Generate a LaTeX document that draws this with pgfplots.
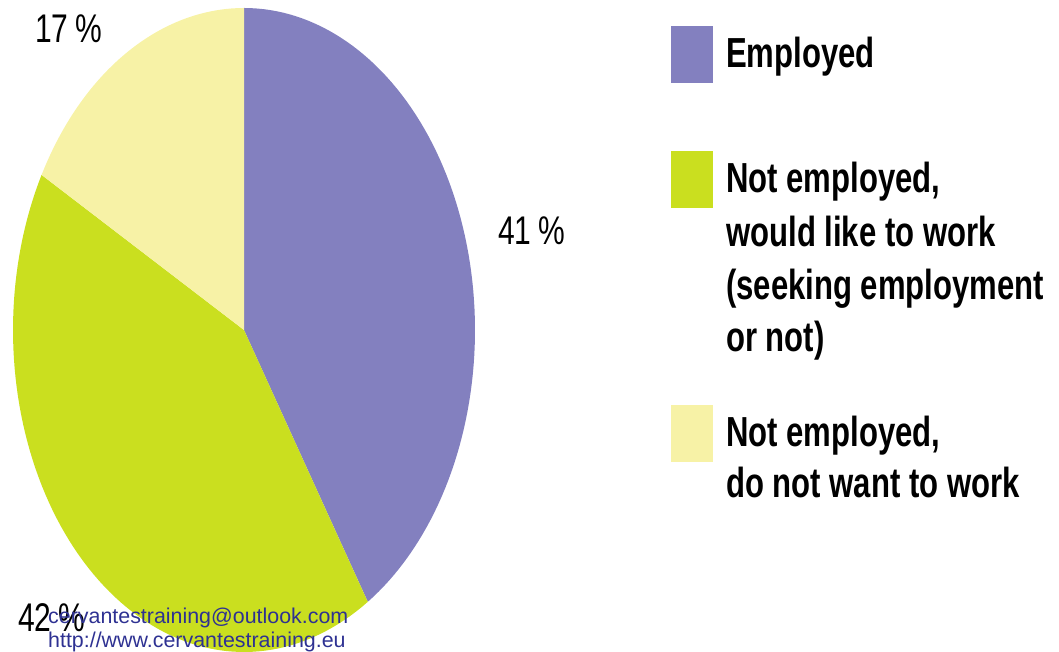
\documentclass[border=0pt]{standalone}
\usepackage{pgfplots}
\pgfplotsset{compat=1.18}
\usepackage{fontspec}
\setmainfont{Liberation Sans}
\newfontfamily\condreg[FakeStretch=0.75]{Liberation Sans}
\newfontfamily\condbold[FakeStretch=0.74, UprightFont=*-Bold]{Liberation Sans}
\definecolor{emp}{HTML}{8380BF}
\definecolor{nwork}{HTML}{CADF1F}
\definecolor{nowant}{HTML}{F7F2A6}
\definecolor{wm}{HTML}{2E3192}
% shares (percent)
\def\pA{41}\def\pB{42}\def\pC{17}
\pgfmathsetmacro\aA{3.6*\pA}
\pgfmathsetmacro\aB{3.6*(\pA+\pB)}
\pgfmathsetmacro\aC{3.6*(\pA+\pB+\pC)}
\begin{document}
\begin{tikzpicture}
\begin{axis}[
  at={(0,0)}, anchor=south west,
  scale only axis, width=1059pt, height=652pt,
  xmin=0, xmax=1059, ymin=0, ymax=652,
  hide axis, clip=false,
]
\addplot[fill=emp, draw=none, domain=0:\aA, samples=90, variable=\t]
  ({244+231*sin(t)}, {322+322*cos(t)}) -- (axis cs:244,322) -- cycle;
\addplot[fill=nwork, draw=none, domain=\aA:\aB, samples=90, variable=\t]
  ({244+231*sin(t)}, {322+322*cos(t)}) -- (axis cs:244,322) -- cycle;
\addplot[fill=nowant, draw=none, domain=\aB:\aC, samples=40, variable=\t]
  ({244+231*sin(t)}, {322+322*cos(t)}) -- (axis cs:244,322) -- cycle;

% percentage labels
\node[anchor=base west, font=\condreg\fontsize{40}{40}\selectfont, inner sep=0pt] at (axis cs:35,609) {17\,\%};
\node[anchor=base west, font=\condreg\fontsize{40}{40}\selectfont, inner sep=0pt] at (axis cs:498,407) {41\,\%};
\node[anchor=base west, font=\condreg\fontsize{40}{40}\selectfont, inner sep=0pt] at (axis cs:18,20) {42\,\%};

% legend
\fill[emp] (axis cs:671,569) rectangle (axis cs:713,626);
\fill[nwork] (axis cs:671,444) rectangle (axis cs:713,501);
\fill[nowant] (axis cs:671,190) rectangle (axis cs:713,247);
\begin{scope}[every node/.style={anchor=base west, inner sep=0pt, font=\condbold\fontsize{42}{42}\selectfont}]
\node at (axis cs:726,584) {Employed};
\node at (axis cs:726,459) {Not employed,};
\node at (axis cs:726,405) {would like to work};
\node at (axis cs:726,352) {(seeking employment};
\node at (axis cs:726,300) {or not)};
\node at (axis cs:726,205) {Not employed,};
\node at (axis cs:726,154) {do not want to work};
\end{scope}

% watermark
\node[anchor=base west, inner sep=0pt, text=wm, font=\fontsize{21.4}{21.4}\selectfont] at (axis cs:48,28) {cervantestraining@outlook.com};
\node[anchor=base west, inner sep=0pt, text=wm, font=\fontsize{21.4}{21.4}\selectfont] at (axis cs:48,4) {http://www.cervantestraining.eu};
\end{axis}
\pgfresetboundingbox
\path (0,0) rectangle (1059pt,652pt);
\end{tikzpicture}
\end{document}
